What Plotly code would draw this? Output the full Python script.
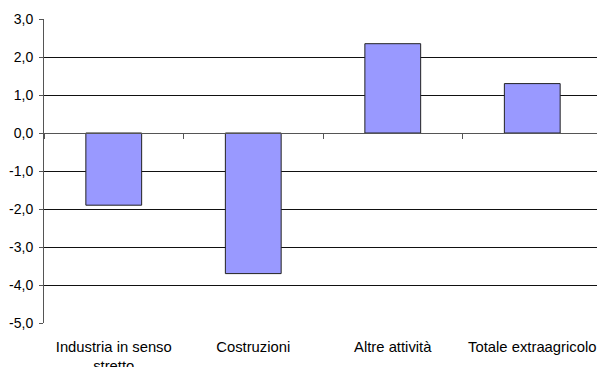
import plotly.graph_objects as go

categories = ["Industria in senso<br>stretto", "Costruzioni", "Altre attività", "Totale extraagricolo"]
values = [-1.9, -3.7, 2.35, 1.3]

y_min, y_max = -5.0, 3.0
y_ticks = [3.0, 2.0, 1.0, 0.0, -1.0, -2.0, -3.0, -4.0, -5.0]
# Italian decimal comma with a plain hyphen for negatives
y_tick_text = [f"{v:.1f}".replace(".", ",") for v in y_ticks]

fig = go.Figure()

fig.add_trace(go.Bar(
    x=categories,
    y=values,
    width=0.4,
    marker=dict(color="#9999FF", line=dict(color="#222222", width=1)),
    hoverinfo="x+y",
))

# helper trace so the zero-line category axis (boundary ticks) is rendered
fig.add_trace(go.Scatter(
    x=categories,
    y=[0] * len(categories),
    xaxis="x2",
    mode="markers",
    marker=dict(opacity=0),
    hoverinfo="skip",
    showlegend=False,
))

zero_pos = (0 - y_min) / (y_max - y_min)

fig.update_layout(
    width=597,
    height=367,
    margin=dict(l=44, r=0, t=19, b=44),
    paper_bgcolor="white",
    plot_bgcolor="white",
    showlegend=False,
    font=dict(family="Liberation Sans, Arial, sans-serif", size=14, color="black"),
    xaxis=dict(
        type="category",
        categoryarray=categories,
        range=[-0.5, 3.464],
        automargin=False,
        showline=False,
        showgrid=False,
        zeroline=False,
        ticks="",
        ticklabelstandoff=13,
        tickfont=dict(size=14.8, color="black"),
    ),
    xaxis2=dict(
        type="category",
        categoryarray=categories,
        matches="x",
        overlaying="x",
        anchor="free",
        position=zero_pos,
        side="bottom",
        automargin=False,
        showline=True,
        linecolor="#555555",
        linewidth=1,
        showgrid=False,
        zeroline=False,
        ticks="outside",
        tickson="boundaries",
        ticklen=5,
        tickcolor="#555555",
        showticklabels=False,
    ),
    yaxis=dict(
        range=[y_min, y_max],
        tickvals=y_ticks,
        ticktext=y_tick_text,
        automargin=False,
        showgrid=True,
        gridcolor="#111111",
        gridwidth=1,
        zeroline=False,
        showline=True,
        linecolor="#555555",
        linewidth=1,
        ticks="outside",
        ticklen=4,
        tickcolor="#555555",
        ticklabelstandoff=3,
        tickfont=dict(size=14, color="black"),
    ),
)

fig.write_html("out.html")
